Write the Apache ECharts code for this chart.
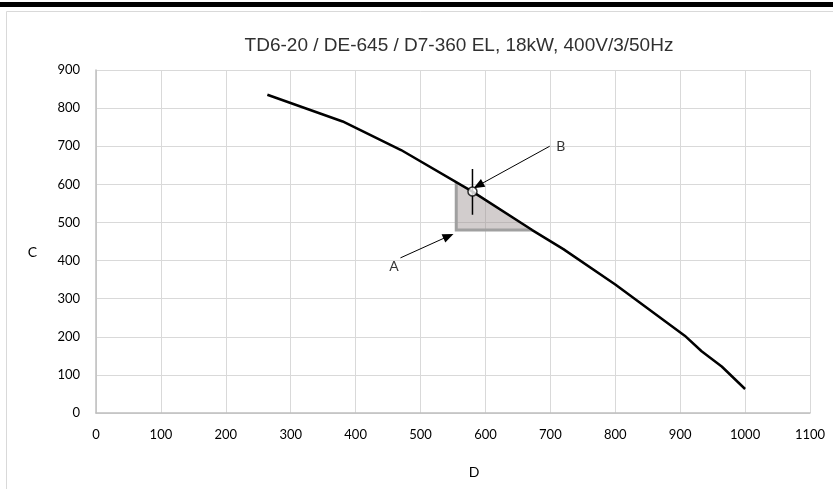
<!DOCTYPE html>
<html>
<head>
<meta charset="utf-8">
<script src="https://cdn.jsdelivr.net/npm/echarts@6/dist/echarts.min.js"></script>
<style>html,body{margin:0;padding:0;background:#fff}#c{width:833px;height:489px}</style>
</head>
<body>
<div id="c"></div>
<script>
// ---- data ----
const titleText = 'TD6-20 / DE-645 / D7-360 EL, 18kW, 400V/3/50Hz';
const xName = 'D';
const yName = 'C';
const curveX = [264, 380, 470, 580, 672, 720, 800, 907, 933, 964, 1000];
const curveY = [835, 765, 690, 581, 480, 430, 337, 203, 162, 122, 63];
const areaX = [555, 555, 672, 580];
const areaY = [606, 480, 480, 581];
const pointB = [580, 581];
const crossX = [580, 580];
const crossY = [520, 640];
const arrowA = [[469, 407], [543, 464]];
const arrowB = [[699, 700], [589, 597]];
const labelNames = ['A', 'B'];
const labelX = [459, 716];
const labelY = [385, 700];

const chart = echarts.init(document.getElementById('c'), null, {renderer: 'canvas'});
const tickFont = 'Lato';
const option = {
  animation: false,
  backgroundColor: '#fff',
  title: {
    text: titleText, left: 454, top: 31, textAlign: 'center',
    textStyle: {fontFamily: 'Liberation Sans', fontSize: 19, fontWeight: 'normal', color: '#303030'}
  },
  grid: {left: 96, right: 23, top: 70, bottom: 76},
  xAxis: {
    type: 'value', min: 0, max: 1100, interval: 100,
    name: xName, nameLocation: 'middle', nameGap: 52,
    nameTextStyle: {fontFamily: tickFont, fontSize: 14, color: '#000', padding: [0, 0, 0, 42]},
    axisLine: {show: true, lineStyle: {color: '#bfbfbf', width: 1.5}},
    axisTick: {show: false},
    axisLabel: {fontFamily: tickFont, fontSize: 13, color: '#000', margin: 15, formatter: v => String(v)},
    splitLine: {show: true, lineStyle: {color: '#d9d9d9', width: 1}}
  },
  yAxis: {
    type: 'value', min: 0, max: 900, interval: 100,
    name: yName, nameLocation: 'middle', nameGap: 59, nameRotate: 0,
    nameTextStyle: {fontFamily: tickFont, fontSize: 14, color: '#000', verticalAlign: 'top', lineHeight: 21},
    axisLine: {show: true, lineStyle: {color: '#bfbfbf', width: 1.5}},
    axisTick: {show: false},
    axisLabel: {fontFamily: tickFont, fontSize: 13, color: '#000', margin: 16, formatter: v => String(v)},
    splitLine: {show: true, lineStyle: {color: '#d9d9d9', width: 1}}
  },
  graphic: [
    {type: 'rect', shape: {x: 0, y: 2, width: 833, height: 5}, style: {fill: '#000'}, z: 100},
    {type: 'rect', shape: {x: 6.5, y: 11.5, width: 840, height: 490}, style: {fill: 'none', stroke: '#d9d9d9', lineWidth: 1}, z: -1}
  ],
  series: [
    {
      type: 'custom', z: 1, silent: true,
      renderItem: function (params, api) {
        const pts = areaX.map((x, i) => api.coord([x, areaY[i]]));
        return {
          type: 'group', children: [
            {type: 'polygon', shape: {points: pts}, style: {fill: 'rgba(155,145,145,0.45)', stroke: 'none'}},
            {type: 'polyline', shape: {points: [pts[0], pts[1], pts[2]]}, style: {fill: 'none', stroke: '#a0a0a0', lineWidth: 3}}
          ]
        };
      },
      data: [0]
    },
    {
      type: 'line', z: 3, symbol: 'none', silent: true,
      lineStyle: {color: '#000', width: 2.5},
      data: curveX.map((x, i) => [x, curveY[i]])
    },
    {
      type: 'line', z: 4, symbol: 'none', silent: true,
      lineStyle: {color: '#000', width: 1.5},
      data: crossX.map((x, i) => [x, crossY[i]])
    },
    {
      type: 'scatter', z: 5, silent: true,
      symbol: 'circle', symbolSize: 9,
      itemStyle: {color: '#fff', borderColor: '#000', borderWidth: 1.5},
      data: [pointB]
    },
    {
      type: 'scatter', z: 6, silent: true, symbolSize: 0,
      label: {show: true, position: 'inside', formatter: p => p.data[2],
        fontFamily: tickFont, fontSize: 14, color: '#000'},
      data: labelX.map((x, i) => [x, labelY[i], labelNames[i]]),
      markLine: {
        silent: true, symbol: ['none', 'triangle'], symbolSize: [9, 11],
        lineStyle: {color: '#000', width: 1, type: 'solid'},
        label: {show: false},
        data: [
          [{coord: arrowA[0]}, {coord: arrowA[1]}],
          [{coord: arrowB[0]}, {coord: arrowB[1]}]
        ]
      }
    }
  ]
};
chart.setOption(option);
</script>
</body>
</html>
